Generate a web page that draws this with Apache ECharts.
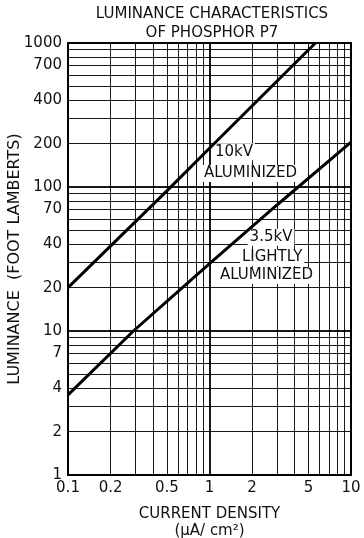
<!DOCTYPE html>
<html>
<head>
<meta charset="utf-8">
<script src="https://cdn.jsdelivr.net/npm/echarts@6/dist/echarts.min.js"></script>
<style>
  html, body { margin: 0; padding: 0; background: #fff; }
  #cc { width: 364px; height: 538px; }
</style>
</head>
<body>
<div id="cc"></div>
<script>
// values (log-log)
var x10kV = [0.1, 0.5, 1, 5.6];
var y10kV = [20, 94, 186, 1000];
var x35kV = [0.1, 0.29, 1, 3, 10];
var y35kV = [3.6, 10, 29.4, 75, 205];

var xLabels = [0.1, 0.2, 0.5, 1, 2, 5, 10];
var yLabels = [1, 2, 4, 7, 10, 20, 40, 70, 100, 200, 400, 700, 1000];

var xGrid = [0.1, 0.2, 0.3, 0.4, 0.5, 0.6, 0.7, 0.8, 0.9, 1, 2, 3, 4, 5, 6, 7, 8, 9, 10];
var yGrid = [1, 2, 3, 4, 5, 6, 7, 8, 9, 10, 20, 30, 40, 50, 60, 70, 80, 90,
             100, 200, 300, 400, 500, 600, 700, 800, 900, 1000];
var decades = [0.1, 1, 10, 100, 1000];

var notes = [
    { name: '10kV', coord: [1.49, 176] },
    { name: 'ALUMINIZED', coord: [1.95, 124] },
    { name: '3.5kV', coord: [2.72, 44.7] },
    { name: 'LIGHTLY', coord: [2.77, 32.4] },
    { name: 'ALUMINIZED', coord: [2.53, 24.3] }
];

var font = 'DejaVu Sans';

function pairs(xs, ys) {
    return xs.map(function (x, i) { return [x, ys[i]]; });
}

var gridLines = [];
xGrid.forEach(function (v) {
    gridLines.push({ xAxis: v, lineStyle: { width: decades.indexOf(v) >= 0 ? 2 : 1 } });
});
yGrid.forEach(function (v) {
    gridLines.push({ yAxis: v, lineStyle: { width: decades.indexOf(v) >= 0 ? 2 : 1 } });
});

var chart = echarts.init(document.getElementById('cc'));

var option = {
    backgroundColor: '#fff',
    animation: false,
    title: {
        text: 'LUMINANCE CHARACTERISTICS\nOF PHOSPHOR P7',
        left: 212,
        top: 5,
        padding: 0,
        textAlign: 'center',
        textStyle: { fontFamily: font, fontSize: 15, fontWeight: 'normal', color: '#111', lineHeight: 19 }
    },
    grid: {
        left: 68, right: 13, top: 43, bottom: 63,
        containLabel: false,
        outerBoundsMode: 'none',
        show: true, borderColor: '#000', borderWidth: 2, backgroundColor: '#fff'
    },
    xAxis: {
        type: 'log',
        logBase: 10,
        min: 0.1,
        max: 10,
        name: 'CURRENT DENSITY\n(µA/ cm²)',
        nameLocation: 'middle',
        nameGap: 31,
        nameMoveOverlap: false,
        nameTextStyle: { fontFamily: font, fontSize: 15, color: '#111', lineHeight: 17, verticalAlign: 'top' },
        axisLine: { show: false },
        axisTick: { show: false },
        splitLine: { show: false },
        axisLabel: {
            customValues: xLabels,
            fontFamily: font, fontSize: 15, color: '#111', margin: 6,
            formatter: function (v) { return String(+v.toPrecision(3)); }
        }
    },
    yAxis: {
        type: 'log',
        logBase: 10,
        min: 1,
        max: 1000,
        name: 'LUMINANCE  (FOOT LAMBERTS)',
        nameLocation: 'middle',
        nameGap: 45,
        nameMoveOverlap: false,
        nameTextStyle: { fontFamily: font, fontSize: 16, color: '#111' },
        axisLine: { show: false },
        axisTick: { show: false },
        splitLine: { show: false },
        axisLabel: {
            customValues: yLabels,
            fontFamily: font, fontSize: 15, color: '#111', margin: 6,
            formatter: function (v) { return String(+v.toPrecision(4)); }
        }
    },
    series: [
        {
            name: '10kV aluminized',
            type: 'line',
            data: pairs(x10kV, y10kV),
            symbol: 'none',
            lineStyle: { color: '#000', width: 3 },
            z: 5,
            markLine: {
                silent: true,
                symbol: 'none',
                label: { show: false },
                lineStyle: { color: '#000', type: 'solid', opacity: 0.9 },
                data: gridLines,
                z: 1
            }
        },
        {
            name: '3.5kV lightly aluminized',
            type: 'line',
            data: pairs(x35kV, y35kV),
            symbol: 'none',
            lineStyle: { color: '#000', width: 3 },
            z: 5,
            markPoint: {
                silent: true,
                symbol: 'rect',
                symbolSize: 0,
                label: {
                    show: true,
                    position: 'inside',
                    formatter: '{b}',
                    fontFamily: font,
                    fontSize: 15,
                    color: '#111',
                    backgroundColor: '#fff',
                    padding: [1, 2]
                },
                data: notes
            }
        }
    ]
};

chart.setOption(option);
</script>
</body>
</html>
